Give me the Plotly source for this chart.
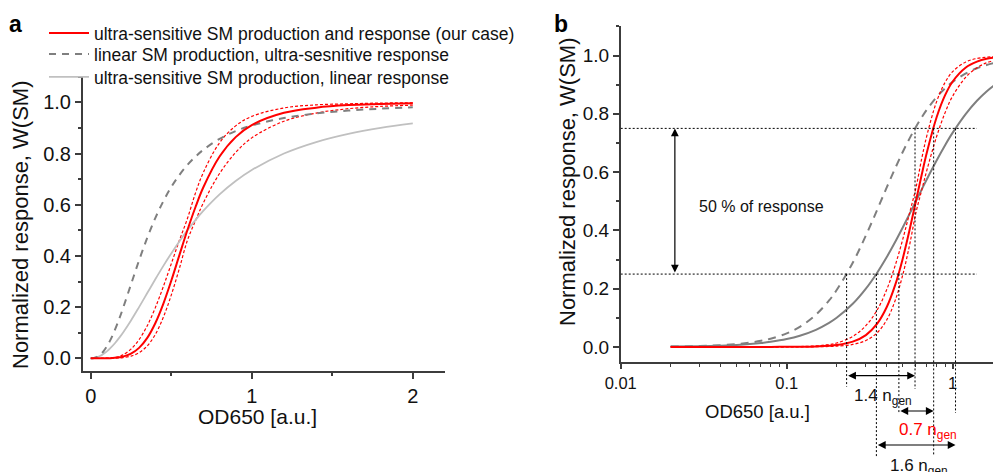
import math
import plotly.graph_objects as go

# ---------------- data ----------------
od = [0, 0.02, 0.03, 0.04, 0.05, 0.06, 0.07, 0.08, 0.1, 0.12, 0.15, 0.18, 0.2,
      0.25, 0.3, 0.35, 0.4, 0.45, 0.5, 0.55, 0.6, 0.65, 0.7, 0.8, 0.9, 1.0,
      1.2, 1.4, 1.6, 1.8, 2.0]

red_solid = [0, 0, 0, 0, 0, 0, 0.0001, 0.0001, 0.0003, 0.0006, 0.0018, 0.0041, 0.0066,
             0.0182, 0.0407, 0.0788, 0.136, 0.212, 0.303, 0.402, 0.5, 0.590, 0.669,
             0.788, 0.864, 0.911, 0.959, 0.979, 0.989, 0.993, 0.996]
red_upper = [0, 0, 0, 0, 0, 0.0001, 0.0001, 0.0002, 0.0006, 0.0013, 0.0036, 0.0083, 0.0133,
             0.036, 0.073, 0.126, 0.196, 0.279, 0.369, 0.460, 0.545, 0.645, 0.727,
             0.842, 0.908, 0.945, 0.978, 0.990, 0.994, 0.997, 0.998]
red_lower = [0, 0, 0, 0, 0, 0, 0, 0, 0.0001, 0.0002, 0.0006, 0.0015, 0.0027,
             0.0086, 0.022, 0.048, 0.092, 0.159, 0.247, 0.350, 0.460, 0.537, 0.608,
             0.722, 0.804, 0.861, 0.926, 0.958, 0.975, 0.984, 0.989]
dashed_lin_prod = [0, 0.0012, 0.0030, 0.0058, 0.0097, 0.0147, 0.0209, 0.0282, 0.0464, 0.0691,
                   0.1107, 0.1595, 0.1952, 0.2889, 0.3825, 0.4693, 0.5467, 0.6125, 0.669,
                   0.7158, 0.7549, 0.7875, 0.8148, 0.8572, 0.8875, 0.9095, 0.9387, 0.9563,
                   0.9676, 0.9751, 0.9804]
grey_lin_resp = [0, 0.0011, 0.0025, 0.0044, 0.0069, 0.0099, 0.0134, 0.0175, 0.0270, 0.0385,
                 0.0588, 0.0826, 0.1, 0.1479, 0.2, 0.2539, 0.3077, 0.36, 0.4098, 0.4566,
                 0.5, 0.54, 0.5765, 0.64, 0.6923, 0.7353, 0.8, 0.8448, 0.8767, 0.9, 0.9174]

legend_names = ["ultra-sensitive SM production and response (our case)",
                "linear SM production, ultra-sesnitive response",
                "ultra-sensitive SM production, linear response"]

# crossings of the 25 % / 75 % response levels (dashed, grey, red) in panel b
levels = [0.25, 0.75]
cross25 = [0.2296, 0.347, 0.474]
cross75 = [0.593, 1.04, 0.768]
span_labels = ["1.4 n<sub>gen</sub>", "1.6 n<sub>gen</sub>", "0.7 n<sub>gen</sub>"]

# ---------------- helpers ----------------
W, H = 993, 472
FONT = "Liberation Sans, Arial, sans-serif"


def pxx(p):
    return p / W


def pxy(p):
    return 1 - p / H


AX_COL = "#3c3c3c"
RED = "#ff0000"
GREY_D = "#7f7f7f"
GREY_L = "#c0c0c0"

fig = go.Figure()

# ---------------- panel a ----------------
fig.add_trace(go.Scatter(x=od, y=red_upper, mode="lines", line=dict(color=RED, width=1.2, dash="3px,2px", shape="spline"),
                         showlegend=False, xaxis="x", yaxis="y"))
fig.add_trace(go.Scatter(x=od, y=red_lower, mode="lines", line=dict(color=RED, width=1.2, dash="3px,2px", shape="spline"),
                         showlegend=False, xaxis="x", yaxis="y"))
fig.add_trace(go.Scatter(x=od, y=grey_lin_resp, mode="lines", name=legend_names[2], legend="legend3",
                         line=dict(color=GREY_L, width=1.8, shape="spline"), xaxis="x", yaxis="y"))
fig.add_trace(go.Scatter(x=od, y=dashed_lin_prod, mode="lines", name=legend_names[1], legend="legend2",
                         line=dict(color=GREY_D, width=2, dash="7px,6px", shape="spline"), xaxis="x", yaxis="y"))
fig.add_trace(go.Scatter(x=od, y=red_solid, mode="lines", name=legend_names[0], legend="legend",
                         line=dict(color=RED, width=2, shape="spline"), xaxis="x", yaxis="y"))

# ---------------- panel b ----------------
od_b = od[1:]
fig.add_trace(go.Scatter(x=od_b, y=grey_lin_resp[1:], mode="lines", line=dict(color=GREY_D, width=2, shape="spline"),
                         showlegend=False, xaxis="x2", yaxis="y2"))
fig.add_trace(go.Scatter(x=od_b, y=dashed_lin_prod[1:], mode="lines",
                         line=dict(color=GREY_D, width=2, dash="8px,6px", shape="spline"),
                         showlegend=False, xaxis="x2", yaxis="y2"))
fig.add_trace(go.Scatter(x=od_b, y=red_upper[1:], mode="lines", line=dict(color=RED, width=1.2, dash="3px,2px", shape="spline"),
                         showlegend=False, xaxis="x2", yaxis="y2"))
fig.add_trace(go.Scatter(x=od_b, y=red_lower[1:], mode="lines", line=dict(color=RED, width=1.2, dash="3px,2px", shape="spline"),
                         showlegend=False, xaxis="x2", yaxis="y2"))
fig.add_trace(go.Scatter(x=od_b, y=red_solid[1:], mode="lines", line=dict(color=RED, width=2, shape="spline"),
                         showlegend=False, xaxis="x2", yaxis="y2"))

# ---------------- axes ----------------
common = dict(showgrid=False, zeroline=False, showline=True, linecolor=AX_COL, linewidth=1.5,
              ticks="outside", tickcolor=AX_COL, tickwidth=1.5, ticklen=6, automargin=False,
              tickfont=dict(size=20, color="#111", family=FONT))

ya_dom = [pxy(371.1), pxy(76.7)]
yb_dom = [pxy(361.5), pxy(26.4)]
yb_range = [-0.05, 1.1]

fig.update_layout(
    xaxis=dict(domain=[pxx(82.7), pxx(445)], range=[-0.05, 2.2], anchor="y", dtick=1, tick0=0,
               minor=dict(dtick=0.5, tick0=0, ticks="outside", ticklen=3, tickcolor=AX_COL, tickwidth=1.5),
               **common),
    yaxis=dict(domain=ya_dom, range=[-0.05, 1.1], anchor="x", dtick=0.2, tick0=0, tickformat=".1f",
               minor=dict(dtick=0.1, tick0=0, ticks="outside", ticklen=3, tickcolor=AX_COL, tickwidth=1.5),
               **common),
    xaxis2=dict(domain=[pxx(620.7), 1.0], type="log", range=[-2, 0.2428], anchor="y2",
                tickvals=[0.01, 0.1, 1], ticktext=["0.01", "0.1", "1"],
                minor=dict(tickvals=[m * 10 ** e for e in (-2, -1, 0) for m in range(2, 10)],
                           ticks="outside", ticklen=4, tickcolor=AX_COL, tickwidth=1.2),
                **{**common, "tickfont": dict(size=16.5, color="#111", family=FONT)}),
    yaxis2=dict(domain=yb_dom, range=yb_range, anchor="x2", dtick=0.2, tick0=0, tickformat=".1f",
                minor=dict(dtick=0.1, tick0=0, ticks="outside", ticklen=3, tickcolor=AX_COL, tickwidth=1.5),
                **{**common, "tickfont": dict(size=19, color="#111", family=FONT)}),
)


def wb2paper(w):
    return yb_dom[0] + (w - yb_range[0]) / (yb_range[1] - yb_range[0]) * (yb_dom[1] - yb_dom[0])


shapes = []
# horizontal 25 % / 75 % guide lines
for lv in levels:
    shapes.append(dict(type="line", xref="x2", yref="y2", x0=0.01, x1=1.4, y0=lv, y1=lv,
                       line=dict(color="black", width=1, dash="2px,2px")))
# vertical guide lines from crossing points down below the axis
bottom25 = [386.7, 458, 413]
bottom75 = [389, 413, 456]
for xs, lv, bots in ((cross25, levels[0], bottom25), (cross75, levels[1], bottom75)):
    for xv, b in zip(xs, bots):
        shapes.append(dict(type="line", xref="x2", yref="paper", x0=xv, x1=xv, y0=wb2paper(lv), y1=pxy(b),
                           line=dict(color="black", width=1, dash="2px,2px")))

annotations = []
# panel letters
annotations.append(dict(text="<b>a</b>", x=pxx(15), y=pxy(24), xref="paper", yref="paper", showarrow=False,
                        xanchor="center", yanchor="middle", font=dict(size=23, family=FONT, color="black")))
annotations.append(dict(text="<b>b</b>", x=pxx(561), y=pxy(24), xref="paper", yref="paper", showarrow=False,
                        xanchor="center", yanchor="middle", font=dict(size=23, family=FONT, color="black")))
# axis titles
for (tx, ty, txt, ang, sz) in [(21, 225, "Normalized response, W(SM)", -90, 22),
                               (567, 182, "Normalized response, W(SM)", -90, 22),
                               (257, 416, "OD650 [a.u.]", 0, 21),
                               (757.5, 411.5, "OD650 [a.u.]", 0, 18.5)]:
    annotations.append(dict(text=txt, x=pxx(tx), y=pxy(ty), xref="paper", yref="paper", showarrow=False,
                            textangle=ang, xanchor="center", yanchor="middle",
                            font=dict(size=sz, family=FONT, color="#111")))

# 50 % of response arrow and label
x_arr = math.log10(0.0212)
annotations.append(dict(x=x_arr, y=levels[1], xref="x2", yref="y2", ax=x_arr, ay=levels[0], axref="x2", ayref="y2",
                        text="", showarrow=True, arrowhead=2, arrowside="end+start", arrowsize=1.3,
                        arrowwidth=1.2, arrowcolor="black", standoff=0, startstandoff=0))
annotations.append(dict(x=math.log10(0.0288), y=0.483, xref="x2", yref="y2", text="50 % of response",
                        showarrow=False, xanchor="left", yanchor="middle",
                        font=dict(size=16, family=FONT, color="#111")))

# generation-span arrows and labels below the axis
arrow_y = [375.7, 445, 411]
label_pos = [(851.7, 397), (888, 467), (896.7, 431)]
label_col = ["#111", "#111", RED]
for i in range(3):
    annotations.append(dict(x=math.log10(cross75[i]), y=pxy(arrow_y[i]), xref="x2", yref="paper",
                            ax=math.log10(cross25[i]), ay=0, axref="x2", ayref="pixel",
                            text="", showarrow=True, arrowhead=2, arrowside="end+start", arrowsize=1.3,
                            arrowwidth=1.2, arrowcolor="black", standoff=0, startstandoff=0))
    lx, ly = label_pos[i]
    annotations.append(dict(x=pxx(lx), y=pxy(ly), xref="paper", yref="paper", text=span_labels[i],
                            showarrow=False, xanchor="left", yanchor="middle",
                            font=dict(size=17, family=FONT, color=label_col[i])))

leg_common = dict(xanchor="left", yanchor="top", font=dict(size=17.5, family=FONT, color="#111"),
                  bgcolor="rgba(0,0,0,0)", itemwidth=40)
fig.update_layout(
    width=W, height=H, margin=dict(l=0, r=0, t=0, b=0, autoexpand=False),
    paper_bgcolor="white", plot_bgcolor="white",
    font=dict(family=FONT, color="#111"),
    shapes=shapes, annotations=annotations,
    legend=dict(x=pxx(44), y=pxy(15), **leg_common),
    legend2=dict(x=pxx(44), y=pxy(36), **leg_common),
    legend3=dict(x=pxx(44), y=pxy(59), **leg_common),
    showlegend=True,
)

fig.write_html("out.html", config={"displayModeBar": False},
               post_script="document.body.style.margin='0px';document.body.style.overflow='hidden';")
